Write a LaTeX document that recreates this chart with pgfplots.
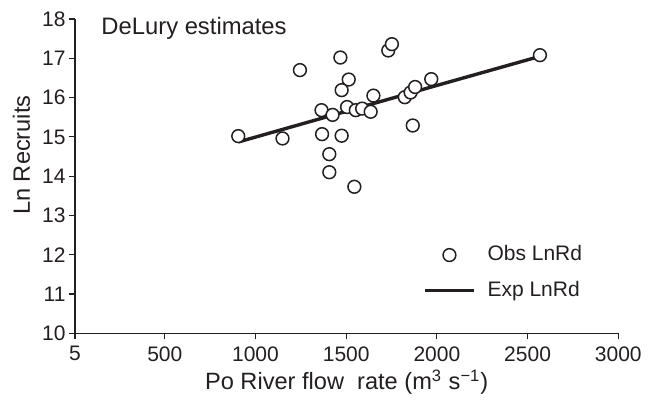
\documentclass[border=0pt]{standalone}
\usepackage{fontspec}
\setmainfont{Liberation Sans}
\usepackage{pgfplots}
\pgfplotsset{compat=1.18}
\definecolor{ink}{RGB}{35,31,32}
\begin{document}
\begin{tikzpicture}
\begin{axis}[
  scale only axis,
  width=271.65bp, height=157.15bp,
  xmin=5, xmax=3000, ymin=10, ymax=18,
  axis x line*=bottom, axis y line*=left,
  axis line style={ink, line width=0.6bp},
  xtick={5,500,1000,1500,2000,2500,3000},
  xticklabels={5,500,1000,1500,2000,2500,3000},
  ytick={10,11,12,13,14,15,16,17,18},
  tick align=outside,
  major tick length=3bp,
  tick style={ink, line width=0.6bp},
  tick label style={font=\fontsize{10.5bp}{12bp}\selectfont, text=ink},
  yticklabel style={xshift=1.8bp},
  /pgf/number format/assume math mode=true,
  clip=false,
  every axis x label/.style={at={(rel axis cs:0.5,-0.180)}, anchor=base},
  every axis y label/.style={at={(rel axis cs:-0.083,0.567)}, rotate=90, anchor=base},
  label style={font=\fontsize{11.8bp}{14bp}\selectfont, text=ink},
  xlabel={Po River flow\ \ rate (m\textsuperscript{3} s\textsuperscript{−1})},
  ylabel={Ln Recruits},
  reverse legend,
  legend cell align=left,
  legend image code/.code={\draw[mark repeat=2,mark phase=2,#1] plot coordinates {(0bp,0bp) (12.07bp,0bp) (24.15bp,0bp)};},
  legend style={draw=none, fill=none, at={(rel axis cs:0.6424,0.1922)}, anchor=west,
    inner sep=0pt, outer sep=0pt, row sep=8.05bp, column sep=6.3bp,
    font=\fontsize{10.5bp}{12bp}\selectfont, text=ink,
    nodes={inner sep=0pt, text height=7.6bp, text depth=2.2bp}},
]
\addplot[ink, line width=1.7bp,
  legend image code/.code={\draw[ink, line width=1.3bp] (0bp,0bp) -- (24.15bp,0bp);}]
  coordinates {(905,14.87) (1500,15.65) (2000,16.31) (2568,17.05)};
\addlegendentry{Exp LnRd}
\addplot[only marks, mark=*, mark size=3.2bp,
  mark options={fill=white, draw=ink, line width=0.75bp}]
  table {
x y
905 15.02
1149 14.96
1245 16.70
1364 15.68
1367 15.07
1425 15.56
1407 14.56
1407 14.10
1468 17.02
1514 16.46
1475 16.19
1475 15.03
1505 15.76
1545 13.73
1553 15.68
1588 15.72
1635 15.64
1650 16.05
1732 17.20
1752 17.36
1823 16.01
1855 16.13
1880 16.27
1969 16.47
1867 15.29
2568 17.08
};
\addlegendentry{Obs LnRd}
\node[anchor=base west, inner sep=0pt, font=\fontsize{11.9bp}{14bp}\selectfont, text=ink]
  at (rel axis cs:0.048,0.952) {DeLury estimates};
\path (rel axis cs:-0.138,-0.1963) rectangle (rel axis cs:1.0657,1.0605);
\end{axis}
\end{tikzpicture}
\end{document}
